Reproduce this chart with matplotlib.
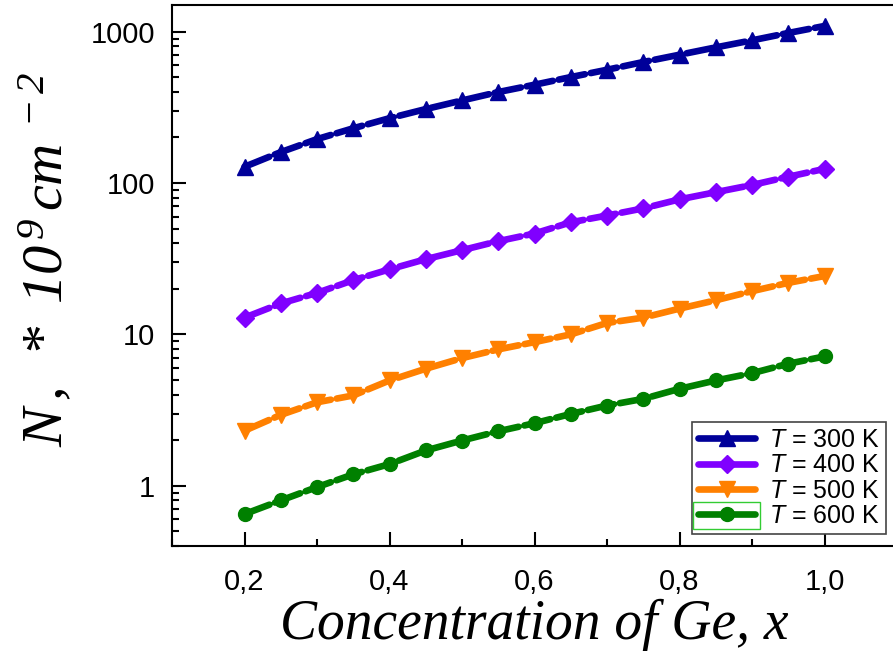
import matplotlib
matplotlib.use('Agg')
import matplotlib.pyplot as plt
from matplotlib.ticker import FixedLocator, FuncFormatter, LogLocator, NullFormatter
from matplotlib.patches import Rectangle

plt.rcParams['font.family'] = 'Liberation Sans'
plt.rcParams['mathtext.fontset'] = 'custom'
plt.rcParams['mathtext.rm'] = 'Liberation Serif:italic'
plt.rcParams['mathtext.it'] = 'Liberation Serif:italic'
plt.rcParams['mathtext.sf'] = 'Liberation Sans:italic'

x = [0.2, 0.25, 0.3, 0.35, 0.4, 0.45, 0.5, 0.55, 0.6, 0.65, 0.7, 0.75, 0.8, 0.85, 0.9, 0.95, 1.0]
n300 = [128, 160, 195, 230, 268, 308, 351, 399, 446, 501, 560, 630, 704, 787, 876, 980, 1090]
n400 = [12.9, 16.0, 18.8, 22.8, 26.9, 31.4, 36.0, 41.3, 46.4, 55, 61, 68, 78, 87, 97, 110, 124]
n500 = [2.31, 2.94, 3.56, 3.95, 4.96, 5.93, 6.97, 7.96, 8.89, 10.0, 11.9, 12.9, 14.8, 16.8, 19.3, 21.9, 24.3]
n600 = [0.65, 0.80, 0.98, 1.19, 1.39, 1.71, 1.99, 2.29, 2.59, 2.98, 3.39, 3.75, 4.37, 4.96, 5.54, 6.40, 7.15]

labels = [r'$\mathsf{T}$ = 300 K', r'$\mathsf{T}$ = 400 K', r'$\mathsf{T}$ = 500 K', r'$\mathsf{T}$ = 600 K']
colors = ['#000099', '#8000FF', '#FF8000', '#008000']
markers = ['^', 'D', 'v', 'o']
msizes = [11, 9, 11, 10]

fig = plt.figure(figsize=(8.93, 6.55), dpi=100)
ax = fig.add_axes([172/893, 109/655, 725/893, 541/655])

for ys, c, m, ms, lab in zip([n300, n400, n500, n600], colors, markers, msizes, labels):
    ax.plot(x, ys, color=c, marker=m, markersize=ms, lw=4.8, ls=(0, (4, 0.9)),
            dash_capstyle='round', label=lab)

ax.set_yscale('log')
ax.set_xlim(0.1, 1.1)
ax.set_ylim(0.4, 1500)

ax.xaxis.set_major_locator(FixedLocator([0.2, 0.4, 0.6, 0.8, 1.0]))
ax.xaxis.set_minor_locator(FixedLocator([0.1, 0.3, 0.5, 0.7, 0.9]))
ax.xaxis.set_major_formatter(FuncFormatter(lambda v, p: ('%.1f' % v).replace('.', ',')))
ax.yaxis.set_major_locator(FixedLocator([1, 10, 100, 1000]))
ax.yaxis.set_major_formatter(FuncFormatter(lambda v, p: '%d' % v))
ax.yaxis.set_minor_locator(LogLocator(base=10, subs=range(2, 10)))
ax.yaxis.set_minor_formatter(NullFormatter())

ax.tick_params(which='both', direction='in', width=1.5, labelsize=21)
ax.tick_params(which='major', length=10)
ax.tick_params(which='minor', length=5)
ax.tick_params(axis='y', which='both', right=False, pad=12)
ax.tick_params(axis='x', which='both', top=False, pad=16)
for s in ax.spines.values():
    s.set_linewidth(1.5)

ax.set_xlabel('Concentration of Ge, x', fontsize=40, family='Liberation Serif',
              style='italic', labelpad=2)
ax.set_ylabel(r'$\mathrm{N\,,\ *\ 10^{\,9}\,cm^{\ -2}}$', fontsize=42)
ax.yaxis.set_label_coords(-0.133, 0.53)

leg = ax.legend(loc='lower right', bbox_to_anchor=(714/725, 12/541), fontsize=18,
                frameon=True, fancybox=False, edgecolor='#444444', framealpha=1,
                handlelength=2.3, handletextpad=0.55, borderpad=0.25, labelspacing=0.05,
                borderaxespad=0)
leg.get_frame().set_linewidth(1.2)

fig.canvas.draw()
r = fig.canvas.get_renderer()
hb = leg.legend_handles[3].get_window_extent(r)
tb = leg.get_texts()[3].get_window_extent(r)
yc = (tb.y0 + tb.y1) / 2
fig.patches.append(Rectangle(((hb.x0 + 2) / 893, (yc - 13) / 655), (hb.width - 4) / 893, 27 / 655,
                             transform=fig.transFigure, fill=False, edgecolor='#33CC33', lw=1))

fig.savefig('out.png', dpi=100)
